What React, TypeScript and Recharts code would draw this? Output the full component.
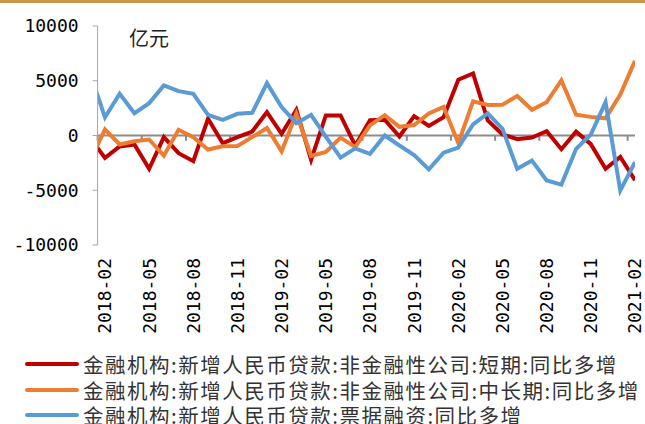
import React from 'react';
import { LineChart, Line, XAxis, YAxis, ReferenceLine } from 'recharts';

// month labels, 2018-01 sits just outside the left edge of the plot
const months = [
    '2018-01', '2018-02', '2018-03', '2018-04', '2018-05', '2018-06', '2018-07', '2018-08', '2018-09', '2018-10',
    '2018-11', '2018-12', '2019-01', '2019-02', '2019-03', '2019-04', '2019-05', '2019-06', '2019-07', '2019-08',
    '2019-09', '2019-10', '2019-11', '2019-12', '2020-01', '2020-02', '2020-03', '2020-04', '2020-05', '2020-06',
    '2020-07', '2020-08', '2020-09', '2020-10', '2020-11', '2020-12', '2021-01', '2021-02',
];

// 非金融性公司:短期
const shortTerm = [
    -220, -2040, -1005, -823, -3045, -150, -1615, -2345, 1525, -700,
    -150, 365, 2130, 155, 2350, -2220, 1830, 1830, -915, 1400,
    1435, -90, 1765, 870, 1670, 5090, 5670, 1370, 100, -335,
    -180, 395, -1250, 350, -790, -3045, -1950, -4080,
];

// 非金融性公司:中长期
const longTerm = [
    -2250, 560, -823, -520, -365, -1830, 520, -150, -1280, -975,
    -950, -150, 680, -1450, 2000, -1870, -1500, -200, -1060, 915,
    1860, 790, 960, 2010, 2620, -690, 3120, 2780, 2815, 3610,
    2350, 3045, 5030, 1900, 1700, 1570, 3730, 6820,
];

// 票据融资
const billFinancing = [
    5650, 1660, 3810, 2040, 2955, 4570, 4050, 3810, 1890, 1435,
    1980, 2070, 4780, 2590, 1125, 1890, -100, -2020, -1180, -1670,
    0, -915, -1780, -3100, -1570, -1100, 1005, 2020, 610, -3045,
    -2285, -4110, -4480, -1220, 90, 3045, -5030, -2440,
];

const seriesNames = [
    '金融机构:新增人民币贷款:非金融性公司:短期:同比多增',
    '金融机构:新增人民币贷款:非金融性公司:中长期:同比多增',
    '金融机构:新增人民币贷款:票据融资:同比多增',
];
const seriesColors = ['#C00000', '#ED7D31', '#5B9BD5'];

const labelTicks = [1, 4, 7, 10, 13, 16, 19, 22, 25, 28, 31, 34, 37];
const markTicks = [0.5, 3.5, 6.5, 9.5, 12.5, 15.5, 18.5, 21.5, 24.5, 27.5, 30.5, 33.5, 36.5];
const yTicks = [-10000, -5000, 0, 5000, 10000];

const data = months.map((m, i) => ({
    idx: i,
    month: m,
    s: shortTerm[i],
    l: longTerm[i],
    b: billFinancing[i],
}));

const MonthTick = (props: any) => {
    const { x, y, payload } = props;
    return (
        <text
            x={x}
            y={y}
            transform={`rotate(-90, ${x}, ${y})`}
            textAnchor="end"
            dy="0.36em"
            fontSize={18}
            fontFamily="DejaVu Sans Mono"
            fill="#000"
        >
            {months[payload.value]}
        </text>
    );
};

export default function App() {
    const keys = ['s', 'l', 'b'];
    return (
        <div style={{ position: 'fixed', left: 0, top: 0, width: 645, height: 424, background: '#fff', overflow: 'hidden' }}>
            <div style={{ position: 'absolute', left: 0, top: 0, width: 645, height: 3, background: '#C8964A' }} />
            <div style={{
                position: 'absolute', left: 129, top: 27.5, fontSize: 20, lineHeight: '20px',
                fontFamily: '"Noto Sans CJK SC"', color: '#222',
            }}>
                亿元
            </div>
            <LineChart width={645} height={340} data={data} margin={{ top: 26, right: 10, bottom: 15, left: 7.6 }}>
                <XAxis
                    type="number"
                    dataKey="idx"
                    domain={[0.5, 37]}
                    allowDataOverflow
                    ticks={labelTicks}
                    interval={0}
                    axisLine={false}
                    tickLine={false}
                    tickSize={0}
                    tickMargin={13}
                    height={80}
                    tick={<MonthTick />}
                />
                <YAxis
                    domain={[-10000, 10000]}
                    ticks={yTicks}
                    interval={0}
                    width={90}
                    axisLine={{ stroke: '#A6A6A6' }}
                    tickLine={{ stroke: '#A6A6A6' }}
                    tickSize={5}
                    tickMargin={14}
                    tick={{ fontSize: 18, fontFamily: 'DejaVu Sans Mono', fill: '#000' }}
                />
                <ReferenceLine y={0} stroke="#8C8C8C" strokeWidth={2} />
                {markTicks.map(t => (
                    <ReferenceLine
                        key={t}
                        segment={[{ x: t, y: 0 }, { x: t, y: -480 }]}
                        stroke="#8C8C8C"
                        strokeWidth={2}
                    />
                ))}
                {keys.map((k, i) => (
                    <Line
                        key={k}
                        type="linear"
                        dataKey={k}
                        name={seriesNames[i]}
                        stroke={seriesColors[i]}
                        strokeWidth={4}
                        dot={false}
                        isAnimationActive={false}
                    />
                ))}
            </LineChart>
            {seriesNames.map((name, i) => (
                <div key={name} style={{
                    position: 'absolute', left: 25, top: 351 + i * 25.5,
                    display: 'flex', alignItems: 'center', height: 26,
                }}>
                    <div style={{ width: 54, height: 4, borderRadius: 2, background: seriesColors[i], marginRight: 4, flex: 'none' }} />
                    <span style={{
                        fontSize: 20.5,
                        lineHeight: '26px',
                        letterSpacing: 1.5,
                        fontFamily: '"Noto Sans CJK SC"',
                        color: '#333',
                        whiteSpace: 'nowrap',
                    }}>
                        {name}
                    </span>
                </div>
            ))}
        </div>
    );
}
